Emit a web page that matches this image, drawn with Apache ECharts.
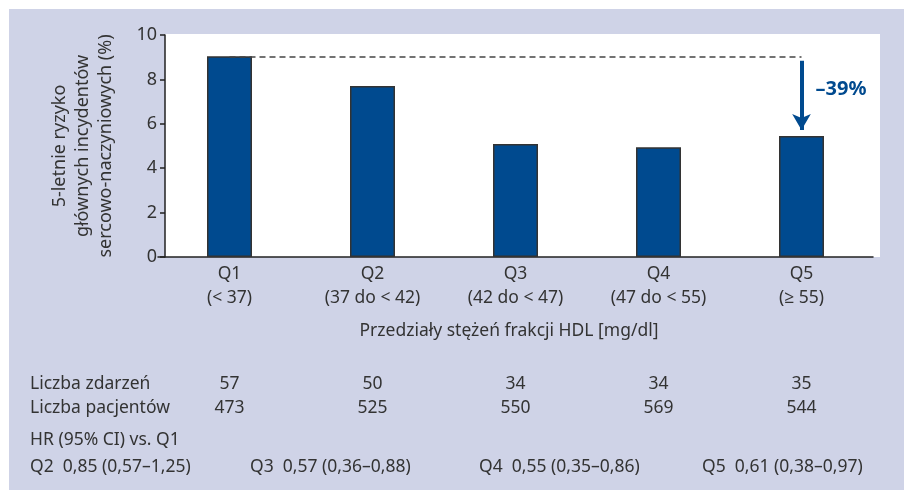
<!DOCTYPE html>
<html>
<head>
<meta charset="utf-8">
<script src="https://cdn.jsdelivr.net/npm/echarts@6/dist/echarts.min.js"></script>
<style>
  html, body { margin: 0; padding: 0; background: #fff; }
  #chart { width: 904px; height: 490px; }
</style>
</head>
<body>
<div id="chart"></div>
<script>
// data
const categories = ['Q1', 'Q2', 'Q3', 'Q4', 'Q5'];
const ranges = ['(< 37)', '(37 do < 42)', '(42 do < 47)', '(47 do < 55)', '(≥ 55)'];
const risk = [9.04, 7.70, 5.09, 4.94, 5.45];
const events = [57, 50, 34, 34, 35];
const patients = [473, 525, 550, 569, 544];
const hrRows = ['Q2  0,85 (0,57–1,25)', 'Q3  0,57 (0,36–0,88)', 'Q4  0,55 (0,35–0,86)', 'Q5  0,61 (0,38–0,97)'];
const reductionLabel = '–39%';

const font = '"Noto Sans", "Open Sans", sans-serif';
const textColor = '#333';
const barColor = '#004a8f';
const panelColor = '#cfd3e7';

const chart = echarts.init(document.getElementById('chart'));

const option = {
  backgroundColor: '#fff',
  animation: false,
  textStyle: { fontFamily: font },
  grid: { left: 158, top: 35, width: 715, height: 222 },
  xAxis: {
    type: 'category',
    data: categories,
    axisLine: { lineStyle: { color: '#222', width: 1.5 } },
    axisTick: { show: false },
    axisLabel: {
      margin: 5,
      fontSize: 17.5,
      lineHeight: 24,
      color: textColor,
      fontFamily: font,
      formatter: (v, i) => v + '\n' + ranges[i]
    },
    name: 'Przedziały stężeń frakcji HDL [mg/dl]',
    nameLocation: 'middle',
    nameGap: 65,
    nameTextStyle: { fontSize: 17.5, color: textColor, fontFamily: font, padding: [0, 13, 0, 0] }
  },
  yAxis: {
    type: 'value',
    min: 0,
    max: 10,
    interval: 2,
    offset: -7,
    splitLine: { show: false },
    axisLine: { show: true, lineStyle: { color: '#222', width: 1.5 } },
    axisTick: { show: true, length: 5, lineStyle: { color: '#222', width: 1.5 } },
    axisLabel: { fontSize: 18, color: textColor, margin: 8, fontFamily: font },
    name: '5-letnie ryzyko\ngłównych incydentów\nsercowo-naczyniowych (%)',
    nameLocation: 'middle',
    nameGap: 48,
    nameTextStyle: { fontSize: 18, lineHeight: 23, color: textColor, fontFamily: font }
  },
  series: [{
    type: 'bar',
    data: risk,
    barWidth: 45,
    itemStyle: { color: barColor, borderColor: '#333', borderWidth: 1.5 },
    markLine: {
      silent: true,
      label: { show: false },
      data: [
        [
          { coord: [categories[0], risk[0]], symbol: 'none', lineStyle: { type: [6, 4], color: '#444', width: 1.5 } },
          { coord: [categories[4], risk[0]], symbol: 'none' }
        ],
        [
          { coord: [categories[4], risk[0] - 0.2], symbol: 'none', lineStyle: { type: 'solid', color: barColor, width: 4 } },
          { coord: [categories[4], risk[4] + 0.27], symbol: 'arrow', symbolSize: [14, 16] }
        ]
      ]
    },
    markPoint: {
      silent: true,
      data: [{
        coord: [categories[4], (risk[0] + risk[4]) / 2 + 0.3],
        symbol: 'circle',
        symbolSize: 0,
        label: {
          show: true,
          formatter: reductionLabel,
          position: 'right',
          distance: 14,
          fontSize: 20,
          fontWeight: 'bold',
          color: barColor,
          fontFamily: font
        }
      }]
    }
  }],
  graphic: {
    elements: [
      { type: 'rect', id: 'panel', z: -10, silent: true, shape: { x: 9, y: 9, width: 895, height: 481 }, style: { fill: panelColor } },
      { type: 'rect', id: 'plot', z: -9, silent: true, shape: { x: 165, y: 34, width: 715, height: 223 }, style: { fill: '#fff' } }
    ]
  }
};

chart.setOption(option);

// table under the chart, aligned to category centers
const txt = (id, text, x, y, align) => ({
  type: 'text', id, silent: true, x, y,
  style: { text, fill: textColor, font: '17.5px ' + font, textAlign: align || 'left', textVerticalAlign: 'middle' }
});

const els = [
  txt('lblEvents', 'Liczba zdarzeń', 30, 384),
  txt('lblPatients', 'Liczba pacjentów', 30, 408),
  txt('lblHr', 'HR (95% CI) vs. Q1', 30, 440)
];
categories.forEach((c, i) => {
  const px = chart.convertToPixel({ xAxisIndex: 0 }, c);
  els.push(txt('ev' + i, String(events[i]), px, 384, 'center'));
  els.push(txt('pt' + i, String(patients[i]), px, 408, 'center'));
});
const hrX = [30, 250, 479, 702];
hrRows.forEach((r, i) => els.push(txt('hr' + i, r, hrX[i], 467)));

chart.setOption({ graphic: { elements: els } });
</script>
</body>
</html>
